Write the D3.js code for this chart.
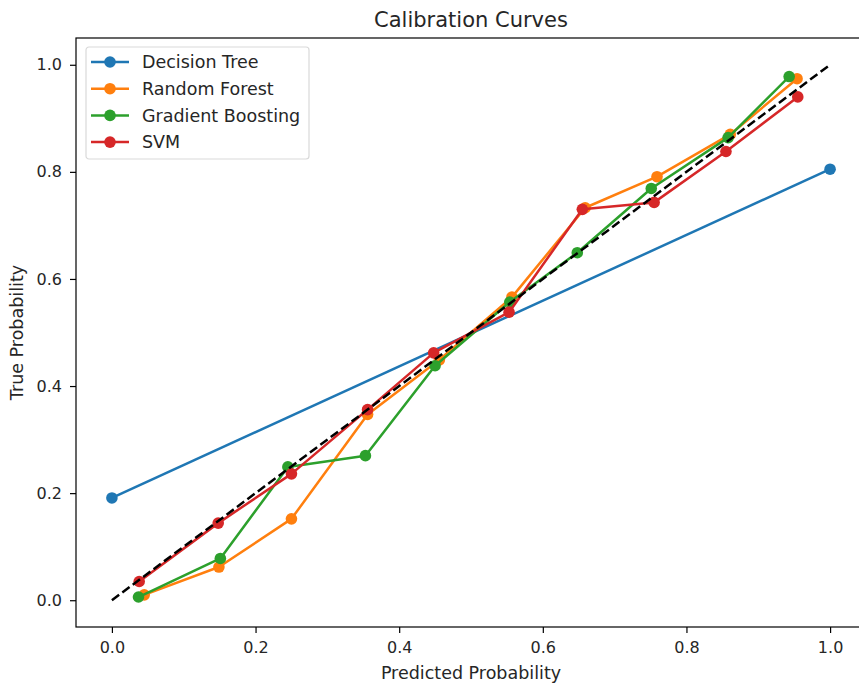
<!DOCTYPE html>
<html>
<head>
<meta charset="utf-8">
<script src="https://cdnjs.cloudflare.com/ajax/libs/d3/7.8.5/d3.min.js"></script>
<style>
    body { margin: 0; background: #fff; }
    svg { display: block; font-family: "DejaVu Sans", sans-serif; }
</style>
</head>
<body>
<svg id="chart" width="859" height="683"></svg>
<script>
(function() {
'use strict';

// values
var modelNames = ['Decision Tree', 'Random Forest', 'Gradient Boosting', 'SVM'];
var modelColors = ['#1f77b4', '#ff7f0e', '#2ca02c', '#d62728'];

var treeX = [0.0, 1.0];
var treeY = [0.191, 0.805];

var forestX = [0.045, 0.149, 0.250, 0.356, 0.456, 0.557, 0.659, 0.759, 0.861, 0.954];
var forestY = [0.010, 0.062, 0.152, 0.347, 0.449, 0.566, 0.733, 0.791, 0.870, 0.974];

var boostX = [0.037, 0.151, 0.245, 0.353, 0.450, 0.554, 0.648, 0.751, 0.858, 0.943];
var boostY = [0.006, 0.078, 0.249, 0.270, 0.438, 0.557, 0.649, 0.769, 0.864, 0.978];

var svmX = [0.038, 0.148, 0.250, 0.356, 0.448, 0.553, 0.655, 0.755, 0.855, 0.955];
var svmY = [0.035, 0.144, 0.236, 0.356, 0.462, 0.538, 0.730, 0.743, 0.838, 0.940];

var diagonal = [0, 1];
var tickValues = [0.0, 0.2, 0.4, 0.6, 0.8, 1.0];

var seriesList = [
    {xs: treeX, ys: treeY},
    {xs: forestX, ys: forestY},
    {xs: boostX, ys: boostY},
    {xs: svmX, ys: svmY}
];

var svg = d3.select('#chart');

// right edge of the axes falls past the picture, as in the reference
var plot = {left: 76, right: 866, top: 38, bottom: 627};
var lw = 2.5, markerR = 5.8;

var x = d3.scaleLinear().domain([-0.05, 1.05]).range([plot.left, plot.right]);
var y = d3.scaleLinear().domain([-0.05, 1.05]).range([plot.bottom, plot.top]);

var fmt = d3.format('.1f');

var xAxis = svg.append('g')
    .attr('transform', 'translate(0,' + plot.bottom + ')')
    .call(d3.axisBottom(x).tickValues(tickValues).tickFormat(fmt).tickSize(6).tickPadding(4));
var yAxis = svg.append('g')
    .attr('transform', 'translate(' + plot.left + ',0)')
    .call(d3.axisLeft(y).tickValues(tickValues).tickFormat(fmt).tickSize(6).tickPadding(8));

[xAxis, yAxis].forEach(function(ax) {
    ax.select('.domain').remove();
    ax.selectAll('line').attr('stroke', '#000').attr('stroke-width', 1.2);
    ax.selectAll('text').attr('font-size', 16).attr('fill', '#262626')
        .attr('font-family', '"DejaVu Sans", sans-serif');
});
xAxis.selectAll('text').attr('dy', '1em');

var clip = svg.append('defs').append('clipPath').attr('id', 'plotclip');
clip.append('rect')
    .attr('x', plot.left).attr('y', plot.top)
    .attr('width', plot.right - plot.left).attr('height', plot.bottom - plot.top);

var g = svg.append('g').attr('clip-path', 'url(#plotclip)');

var line = d3.line()
    .x(function(d) { return x(d[0]); })
    .y(function(d) { return y(d[1]); });

seriesList.forEach(function(s, i) {
    var pts = s.xs.map(function(v, k) { return [v, s.ys[k]]; });
    g.append('path')
        .datum(pts)
        .attr('d', line)
        .attr('fill', 'none')
        .attr('stroke', modelColors[i])
        .attr('stroke-width', lw)
        .attr('stroke-linejoin', 'round');
    g.selectAll('circle.s' + i).data(pts).enter().append('circle')
        .attr('class', 's' + i)
        .attr('cx', function(d) { return x(d[0]); })
        .attr('cy', function(d) { return y(d[1]); })
        .attr('r', markerR)
        .attr('fill', modelColors[i]);
});

// perfectly calibrated reference
g.append('path')
    .datum(diagonal.map(function(v) { return [v, v]; }))
    .attr('d', line)
    .attr('fill', 'none')
    .attr('stroke', '#000')
    .attr('stroke-width', lw)
    .attr('stroke-dasharray', '9,4');

// frame
svg.append('rect')
    .attr('x', plot.left).attr('y', plot.top)
    .attr('width', plot.right - plot.left).attr('height', plot.bottom - plot.top)
    .attr('fill', 'none').attr('stroke', '#000').attr('stroke-width', 1.2);

svg.append('text')
    .attr('x', 471).attr('y', 27)
    .attr('text-anchor', 'middle')
    .attr('font-size', 21).attr('fill', '#262626')
    .text('Calibration Curves');

svg.append('text')
    .attr('x', 471).attr('y', 679)
    .attr('text-anchor', 'middle')
    .attr('font-size', 17.5).attr('fill', '#262626')
    .text('Predicted Probability');

svg.append('text')
    .attr('transform', 'translate(23,' + ((plot.top + plot.bottom) / 2) + ') rotate(-90)')
    .attr('text-anchor', 'middle')
    .attr('font-size', 17.5).attr('fill', '#262626')
    .text('True Probability');

// legend
var legend = svg.append('g').attr('transform', 'translate(86,47)');
legend.append('rect')
    .attr('width', 223).attr('height', 112).attr('rx', 3)
    .attr('fill', '#fff').attr('fill-opacity', 0.8)
    .attr('stroke', '#d9d9d9').attr('stroke-width', 1.2);

var items = legend.selectAll('g.item').data(modelNames).enter().append('g')
    .attr('class', 'item')
    .attr('transform', function(d, i) { return 'translate(0,' + (15 + i * 26.7) + ')'; });
items.append('line')
    .attr('x1', 5).attr('x2', 43)
    .attr('stroke', function(d, i) { return modelColors[i]; })
    .attr('stroke-width', lw);
items.append('circle')
    .attr('cx', 24).attr('r', markerR)
    .attr('fill', function(d, i) { return modelColors[i]; });
items.append('text')
    .attr('x', 56).attr('dy', '0.36em')
    .attr('font-size', 17.5).attr('fill', '#262626')
    .text(function(d) { return d; });

})();
</script>
</body>
</html>
